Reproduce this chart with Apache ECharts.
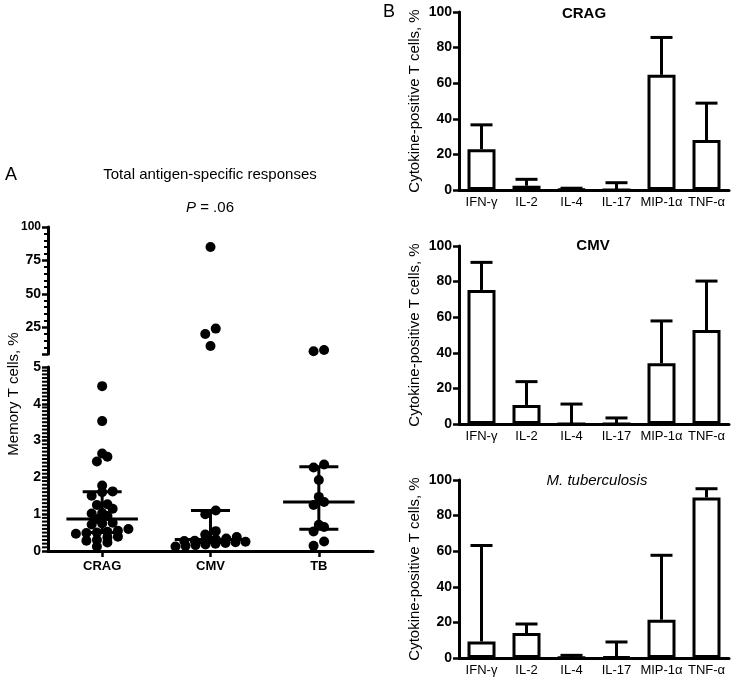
<!DOCTYPE html>
<html><head><meta charset="utf-8">
<script src="https://cdn.jsdelivr.net/npm/echarts@6/dist/echarts.min.js"></script>
<style>html,body{margin:0;padding:0;background:#fff}#c{width:733px;height:686px}</style>
</head><body><div id="c"></div>
<script>
// ---------- Panel A data ----------
const groups = ['CRAG', 'CMV', 'TB'];
const cragValues = [4.48, 3.53, 2.65, 2.56, 2.43, 1.78, 1.62, 1.6, 1.5, 1.27, 1.25, 1.15, 1.03, 1.02, 0.95,
  0.87, 0.77, 0.75, 0.72, 0.6, 0.55, 0.52, 0.5, 0.49, 0.47, 0.39, 0.37, 0.3, 0.28, 0.23, 0.12];
const cmvValues = [85, 24, 20, 11, 1.1, 1.0, 0.54, 0.45, 0.38, 0.34, 0.32, 0.3, 0.28, 0.27, 0.25, 0.24,
  0.22, 0.2, 0.18, 0.16, 0.14, 0.12];
const tbValues = [8, 7, 2.35, 2.27, 1.93, 1.47, 1.33, 1.25, 0.71, 0.65, 0.53, 0.26, 0.14];
const medians = [0.87, 0.31, 1.33];
const q1 = [0.5, 0.23, 0.59];
const q3 = [1.61, 1.1, 2.29];
const lowerTicks = [0, 1, 2, 3, 4, 5];
const upperMajorTicks = [5, 25, 50, 75, 100];
const upperTickLabels = [25, 50, 75, 100];
const upperMinorTicks = [10, 15, 20, 30, 35, 40, 45, 55, 60, 65, 70, 80, 85, 90, 95];

// ---------- Panel B data ----------
const cytokines = ['IFN-γ', 'IL-2', 'IL-4', 'IL-17', 'MIP-1α', 'TNF-α'];
const cragMean = [22.9, 2.4, 0.3, 0, 64.7, 28.1];
const cragErr = [36.6, 6.0, 1.0, 4.1, 85.7, 48.8];
const cmvMean = [75.3, 10.7, 0, 0, 34.1, 52.8];
const cmvErr = [90.8, 23.8, 11.2, 3.4, 57.9, 80.3];
const tbMean = [9.3, 14, 0.2, 0.7, 21.5, 90.2];
const tbErr = [63.2, 19.1, 1.5, 9.0, 57.7, 95.1];
const panelB = [
  {title: 'CRAG', mean: cragMean, err: cragErr, italic: false},
  {title: 'CMV', mean: cmvMean, err: cmvErr, italic: false},
  {title: 'M. tuberculosis', mean: tbMean, err: tbErr, italic: true}
];

const F = '"Liberation Sans", Arial, Helvetica, sans-serif';
const K = '#000';
const line3 = {color: K, width: 3};
const tick = {color: K, width: 2.5};

const chart = echarts.init(document.getElementById('c'));

const bTops = [12, 246, 480];
const bTitleX = [584, 593, 597];
const bTitleY = [14, 246, 481];

// minor ticks of the lower segment: tenths between the labelled ticks
const lowerMinorTicks = [];
for (let i = 0; i < lowerTicks.length - 1; i++) {
  for (let k = 1; k < 10; k++) lowerMinorTicks.push(Math.round((lowerTicks[i] + k / 10) * 10) / 10);
}

const grids = [
  {left: 48, top: 227, width: 325, height: 127},
  {left: 48, top: 367, width: 325, height: 184}
];
bTops.forEach(t => grids.push({left: 459, top: t, width: 270, height: 178}));

const xAxes = [
  {gridIndex: 0, type: 'value', min: 0.5, max: 3.5, show: false},
  {gridIndex: 1, type: 'value', min: 0.5, max: 3.5,
    axisLine: {show: true, onZero: false, lineStyle: line3},
    axisTick: {show: true, customValues: [1, 2, 3], length: 6, lineStyle: tick},
    axisLabel: {customValues: [1, 2, 3], formatter: v => groups[Math.round(v) - 1],
      fontWeight: 'bold', fontSize: 13, color: K, margin: 9, fontFamily: F},
    splitLine: {show: false}}
];
const yAxes = [
  {gridIndex: 0, type: 'value', min: 5, max: 100, position: 'left',
    axisLine: {show: true, onZero: false, lineStyle: line3},
    axisTick: {show: true, customValues: upperMajorTicks, length: 6, lineStyle: tick},
    axisLabel: {customValues: upperTickLabels, color: K, fontWeight: 'bold', fontSize: 14, margin: 7, fontFamily: F,
      formatter: v => v === 100 ? '{s|100}' : String(v), rich: {s: {fontSize: 12, fontWeight: 'bold', fontFamily: F, color: K}}},
    splitLine: {show: false}},
  {gridIndex: 0, type: 'value', min: 5, max: 100, position: 'left',
    axisLine: {show: false},
    axisTick: {show: true, customValues: upperMinorTicks, length: 4, lineStyle: {color: K, width: 2}},
    axisLabel: {show: false}, splitLine: {show: false}},
  {gridIndex: 1, type: 'value', min: 0, max: 5, interval: 1, position: 'left',
    axisLine: {show: true, onZero: false, lineStyle: line3},
    axisTick: {show: true, length: 6, lineStyle: tick},
    axisLabel: {color: K, fontWeight: 'bold', fontSize: 14, margin: 7, fontFamily: F},
    splitLine: {show: false}}
];
panelB.forEach((p, k) => {
  xAxes.push({gridIndex: 2 + k, type: 'category', data: cytokines,
    axisLine: {onZero: false, lineStyle: line3},
    axisTick: {alignWithLabel: true, length: 6, lineStyle: tick},
    axisLabel: {color: K, fontSize: 13, margin: 6, interval: 0, fontFamily: F}});
  yAxes.push({gridIndex: 2 + k, type: 'value', min: 0, max: 100, interval: 20,
    axisLine: {show: true, onZero: false, lineStyle: line3},
    axisTick: {show: true, length: 6, lineStyle: tick},
    axisLabel: {color: K, fontWeight: 'bold', fontSize: 14, margin: 7, fontFamily: F},
    splitLine: {show: false}});
});

function errRender(params, api) {
  const i = api.value(0);
  const top = api.coord([i, api.value(1)]);
  const base = api.coord([i, api.value(2)]);
  const cap = 11;
  return {type: 'group', children: [
    {type: 'line', shape: {x1: top[0], y1: base[1], x2: top[0], y2: top[1]}, style: {stroke: K, lineWidth: 3}},
    {type: 'line', shape: {x1: top[0] - cap, y1: top[1], x2: top[0] + cap, y2: top[1]}, style: {stroke: K, lineWidth: 3}}
  ]};
}
function medRender(params, api) {
  const g = api.value(0);
  const m = api.coord([g, api.value(1)]);
  const lo = api.coord([g, api.value(2)]);
  const hi = api.coord([g, api.value(3)]);
  const unit = api.size([1, 0])[0];
  const mh = unit * 0.33, ch = unit * 0.18;
  const st = {stroke: K, lineWidth: 3};
  return {type: 'group', children: [
    {type: 'line', shape: {x1: m[0], y1: lo[1], x2: m[0], y2: hi[1]}, style: st},
    {type: 'line', shape: {x1: m[0] - mh, y1: m[1], x2: m[0] + mh, y2: m[1]}, style: st},
    {type: 'line', shape: {x1: m[0] - ch, y1: lo[1], x2: m[0] + ch, y2: lo[1]}, style: st},
    {type: 'line', shape: {x1: m[0] - ch, y1: hi[1], x2: m[0] + ch, y2: hi[1]}, style: st}
  ]};
}
// short minor tick marks on the left of the lower axis segment, positioned by the axis scale
function minorTickRender(params, api) {
  const p = api.coord([api.value(0), api.value(1)]);
  return {type: 'line', shape: {x1: p[0] - 6, y1: p[1], x2: p[0] - 1, y2: p[1]}, style: {stroke: K, lineWidth: 2}};
}

const dotStyle = {color: K, opacity: 1};
const series = [
  {id: 'upperDots', type: 'scatter', xAxisIndex: 0, yAxisIndex: 0, data: [], symbolSize: 10, itemStyle: dotStyle, z: 2},
  {id: 'lowerDots', type: 'scatter', xAxisIndex: 1, yAxisIndex: 2, data: [], symbolSize: 10, itemStyle: dotStyle, z: 2},
  {type: 'custom', xAxisIndex: 1, yAxisIndex: 2, renderItem: medRender, encode: {x: 0, y: 1},
    data: groups.map((g, i) => [i + 1, medians[i], q1[i], q3[i]]), z: 5},
  {type: 'custom', xAxisIndex: 1, yAxisIndex: 2, renderItem: minorTickRender, encode: {x: 0, y: 1}, clip: false,
    data: lowerMinorTicks.map(v => [0.5, v]), silent: true, z: 6}
];
panelB.forEach((p, k) => {
  series.push({type: 'custom', xAxisIndex: 2 + k, yAxisIndex: 3 + k, renderItem: errRender, encode: {x: 0, y: 1},
    data: cytokines.map((c, i) => [i, p.err[i], p.mean[i]]), z: 2});
  series.push({type: 'bar', xAxisIndex: 2 + k, yAxisIndex: 3 + k, data: p.mean, barWidth: 28,
    itemStyle: {color: '#fff', borderColor: K, borderWidth: 3}, z: 3});
});

const txt = (x, y, text, size, extra) => Object.assign({type: 'text', x: x, y: y,
  style: Object.assign({text: text, fontSize: size, fontFamily: F, fill: K, textAlign: 'center', textVerticalAlign: 'middle'}, extra || {})});
const graphics = [
  txt(11, 175, 'A', 18),
  txt(210, 175, 'Total antigen-specific responses', 15),
  txt(210, 208, '{i|P} = .06', 15, {rich: {i: {fontStyle: 'italic', fontSize: 15, fontFamily: F, fill: K}}}),
  Object.assign(txt(14, 394, 'Memory T cells, %', 15), {rotation: Math.PI / 2}),
  txt(389, 12, 'B', 18)
];
panelB.forEach((p, k) => {
  graphics.push(txt(bTitleX[k], bTitleY[k], p.title, 15, p.italic ? {fontStyle: 'italic'} : {fontWeight: 'bold'}));
  graphics.push(Object.assign(txt(415, bTops[k] + 89, 'Cytokine-positive T cells, %', 15), {rotation: Math.PI / 2}));
});

chart.setOption({
  animation: false,
  backgroundColor: '#fff',
  textStyle: {fontFamily: F, color: K},
  grid: grids, xAxis: xAxes, yAxis: yAxes, series: series, graphic: graphics
});

// beeswarm-style horizontal spreading of dots that share a row
function swarm(values, center, xi, yi) {
  const finder = {xAxisIndex: xi, yAxisIndex: yi};
  const unit = chart.convertToPixel(finder, [center + 1, values[0]])[0] - chart.convertToPixel(finder, [center, values[0]])[0];
  const pts = values.map(v => ({v: v, py: chart.convertToPixel(finder, [center, v])[1]}));
  pts.sort((a, b) => b.py - a.py);
  const out = [];
  let i = 0;
  while (i < pts.length) {
    const row = [pts[i]];
    let j = i + 1;
    while (j < pts.length && pts[i].py - pts[j].py < 5.5) { row.push(pts[j]); j++; }
    const step = row.length > 1 ? Math.min(10.5, 70 / (row.length - 1)) : 0;
    row.forEach((p, k) => {
      const off = (k - (row.length - 1) / 2) * step;
      out.push([center + off / unit, p.v]);
    });
    i = j;
  }
  return out;
}
let upper = [], lower = [];
[cragValues, cmvValues, tbValues].forEach((vals, gi) => {
  const hi = vals.filter(v => v > 5), lo = vals.filter(v => v <= 5);
  if (hi.length) upper = upper.concat(swarm(hi, gi + 1, 0, 0));
  if (lo.length) lower = lower.concat(swarm(lo, gi + 1, 1, 2));
});
chart.setOption({series: [{id: 'upperDots', data: upper}, {id: 'lowerDots', data: lower}]});
</script>
</body></html>
